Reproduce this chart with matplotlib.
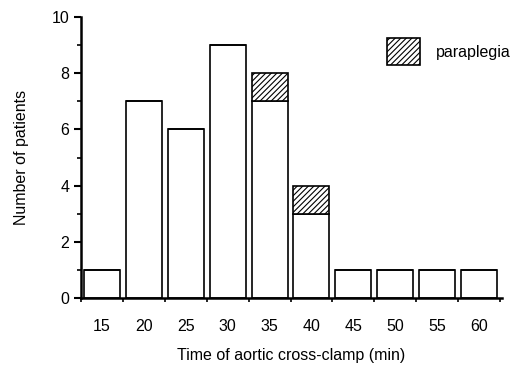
import numpy as np
import matplotlib
matplotlib.use("Agg")
import matplotlib.pyplot as plt
from matplotlib.patches import Patch
from matplotlib.ticker import MultipleLocator

plt.rcParams['font.family'] = ['Liberation Sans', 'DejaVu Sans']
plt.rcParams['hatch.linewidth'] = 0.8

# data
clamp_times = ['15', '20', '25', '30', '35', '40', '45', '50', '55', '60']
no_paraplegia = [1, 7, 6, 9, 7, 3, 1, 1, 1, 1]
paraplegia = [0, 0, 0, 0, 1, 1, 0, 0, 0, 0]

fig = plt.figure(figsize=(5.17, 3.69), dpi=100)
ax = fig.add_axes([0.157, 0.192, 0.814, 0.762])

x = np.arange(len(clamp_times)) + 0.5
ax.bar(x, no_paraplegia, width=0.86, color='white', edgecolor='black', linewidth=1.2)
ax.bar(x, paraplegia, width=0.86, bottom=no_paraplegia, color='white',
       edgecolor='black', linewidth=1.2, hatch='//////')

ax.set_xlim(0, 10.05)
ax.set_ylim(0, 10)
ax.set_xticks(np.arange(0, 11))
ax.set_xticklabels([])
ax.set_xticks(x, minor=True)
ax.set_xticklabels(clamp_times, minor=True)
ax.tick_params(axis='x', which='minor', length=0, pad=15, labelsize=11.5)
ax.tick_params(axis='x', which='major', length=3, width=1.2, direction='out')

ax.yaxis.set_major_locator(MultipleLocator(2))
ax.yaxis.set_minor_locator(MultipleLocator(1))
ax.tick_params(axis='y', which='major', length=5, width=1.5, labelsize=11.5)
ax.tick_params(axis='y', which='minor', length=3, width=1.2)

for s in ['top', 'right']:
    ax.spines[s].set_visible(False)
for s in ['left', 'bottom']:
    ax.spines[s].set_linewidth(1.8)

ax.set_xlabel('Time of aortic cross-clamp (min)', fontsize=11.5, labelpad=10)
ax.set_ylabel('Number of patients', fontsize=11.5, labelpad=16)

handle = Patch(facecolor='white', edgecolor='black', hatch='//////', linewidth=1.2)
ax.legend([handle], ['paraplegia'], loc='upper right', bbox_to_anchor=(1.055, 0.975),
          frameon=False, fontsize=11.5, handlelength=2.1, handleheight=2.2,
          handletextpad=1.0)

fig.savefig('out.png', dpi=100)
